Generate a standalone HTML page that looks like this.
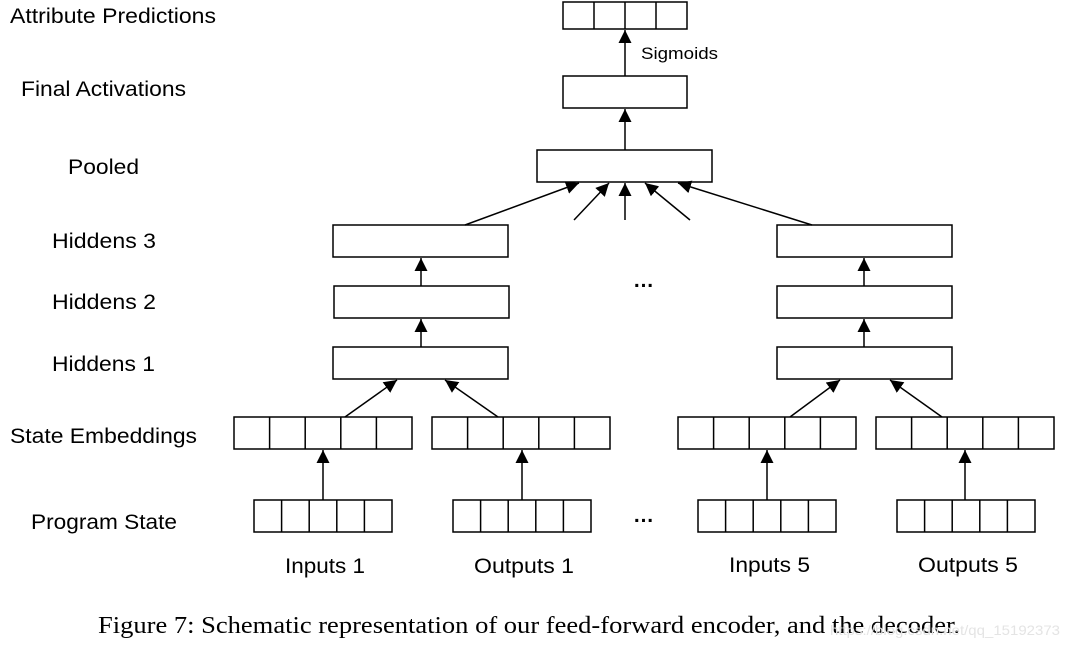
<!DOCTYPE html>
<html><head><meta charset="utf-8"><style>
html,body{margin:0;padding:0;background:#fff;}
svg{display:block}
.l{font-family:"Liberation Sans",sans-serif;font-size:21px;fill:#000}
</style></head><body>
<svg width="1070" height="648" viewBox="0 0 1070 648" xmlns="http://www.w3.org/2000/svg">
<defs><marker id="a" viewBox="0 0 10 10" refX="10" refY="5" markerWidth="13" markerHeight="13" markerUnits="userSpaceOnUse" orient="auto"><path d="M0,0L10,5L0,10z" fill="#000"/></marker></defs>
<g fill="none" stroke="#000" stroke-width="1.5">
<rect x="563" y="2" width="124" height="27"/>
<path d="M594 2V29M625 2V29M656 2V29"/>
<rect x="563" y="76" width="124" height="32"/>
<rect x="537" y="150" width="175" height="32"/>
<rect x="333" y="225" width="175" height="32"/><rect x="334" y="286" width="175" height="32"/><rect x="333" y="347" width="175" height="32"/>
<rect x="777" y="225" width="175" height="32"/><rect x="777" y="286" width="175" height="32"/><rect x="777" y="347" width="175" height="32"/>
<rect x="234" y="417" width="178" height="32"/><path d="M269.6 417v32M305.2 417v32M340.8 417v32M376.4 417v32"/>
<rect x="432" y="417" width="178" height="32"/><path d="M467.6 417v32M503.2 417v32M538.8 417v32M574.4 417v32"/>
<rect x="678" y="417" width="178" height="32"/><path d="M713.6 417v32M749.2 417v32M784.8 417v32M820.4 417v32"/>
<rect x="876" y="417" width="178" height="32"/><path d="M911.6 417v32M947.2 417v32M982.8 417v32M1018.4 417v32"/>
<rect x="254" y="500" width="138" height="32"/><path d="M281.6 500v32M309.2 500v32M336.8 500v32M364.4 500v32"/>
<rect x="453" y="500" width="138" height="32"/><path d="M480.6 500v32M508.2 500v32M535.8 500v32M563.4 500v32"/>
<rect x="698" y="500" width="138" height="32"/><path d="M725.6 500v32M753.2 500v32M780.8 500v32M808.4 500v32"/>
<rect x="897" y="500" width="138" height="32"/><path d="M924.6 500v32M952.2 500v32M979.8 500v32M1007.4 500v32"/>
</g>
<g stroke="#000" stroke-width="1.5" marker-end="url(#a)">
<line x1="625" y1="76" x2="625" y2="30"/>
<line x1="625" y1="150" x2="625" y2="109"/>
<line x1="465" y1="225" x2="579" y2="183"/>
<line x1="574" y1="220" x2="609" y2="183"/>
<line x1="625" y1="220" x2="625" y2="183"/>
<line x1="690" y1="220" x2="645" y2="183"/>
<line x1="812" y1="225" x2="678" y2="183"/>
<line x1="421" y1="286" x2="421" y2="258"/>
<line x1="421" y1="347" x2="421" y2="319"/>
<line x1="864" y1="286" x2="864" y2="258"/>
<line x1="864" y1="347" x2="864" y2="319"/>
<line x1="345" y1="417" x2="397" y2="380"/>
<line x1="498" y1="417" x2="445" y2="380"/>
<line x1="790" y1="417" x2="840" y2="380"/>
<line x1="942" y1="417" x2="890" y2="380"/>
<line x1="323" y1="500" x2="323" y2="450"/>
<line x1="522" y1="500" x2="522" y2="450"/>
<line x1="767" y1="500" x2="767" y2="450"/>
<line x1="965" y1="500" x2="965" y2="450"/>
</g>
<text class="l" x="10" y="23" textLength="206" lengthAdjust="spacingAndGlyphs">Attribute Predictions</text>
<text class="l" x="21" y="96" textLength="165" lengthAdjust="spacingAndGlyphs">Final Activations</text>
<text class="l" x="68" y="174" textLength="71" lengthAdjust="spacingAndGlyphs">Pooled</text>
<text class="l" x="52" y="248" textLength="104" lengthAdjust="spacingAndGlyphs">Hiddens 3</text>
<text class="l" x="52" y="309" textLength="104" lengthAdjust="spacingAndGlyphs">Hiddens 2</text>
<text class="l" x="52" y="371" textLength="103" lengthAdjust="spacingAndGlyphs">Hiddens 1</text>
<text class="l" x="10" y="443" textLength="187" lengthAdjust="spacingAndGlyphs">State Embeddings</text>
<text class="l" x="31" y="529" textLength="146" lengthAdjust="spacingAndGlyphs">Program State</text>
<text class="l" x="285" y="573" textLength="80" lengthAdjust="spacingAndGlyphs">Inputs 1</text>
<text class="l" x="474" y="573" textLength="100" lengthAdjust="spacingAndGlyphs">Outputs 1</text>
<text class="l" x="729" y="572" textLength="81" lengthAdjust="spacingAndGlyphs">Inputs 5</text>
<text class="l" x="918" y="572" textLength="100" lengthAdjust="spacingAndGlyphs">Outputs 5</text>
<text style="font-family:'Liberation Sans',sans-serif;font-size:17px" x="641" y="59" textLength="77" lengthAdjust="spacingAndGlyphs">Sigmoids</text>
<text class="l" x="633" y="287" style="font-weight:bold">…</text>
<text class="l" x="633" y="522" style="font-weight:bold">…</text>
<text style="font-family:'Liberation Serif',serif;font-size:24px" x="98" y="633" textLength="862" lengthAdjust="spacingAndGlyphs">Figure 7: Schematic representation of our feed-forward encoder, and the decoder.</text>
<text style="font-family:'Liberation Sans',sans-serif;font-size:14px;fill:#e4e4e4" x="830" y="635" textLength="230" lengthAdjust="spacingAndGlyphs">https://blog.csdn.net/qq_15192373</text>
</svg>
</body></html>
